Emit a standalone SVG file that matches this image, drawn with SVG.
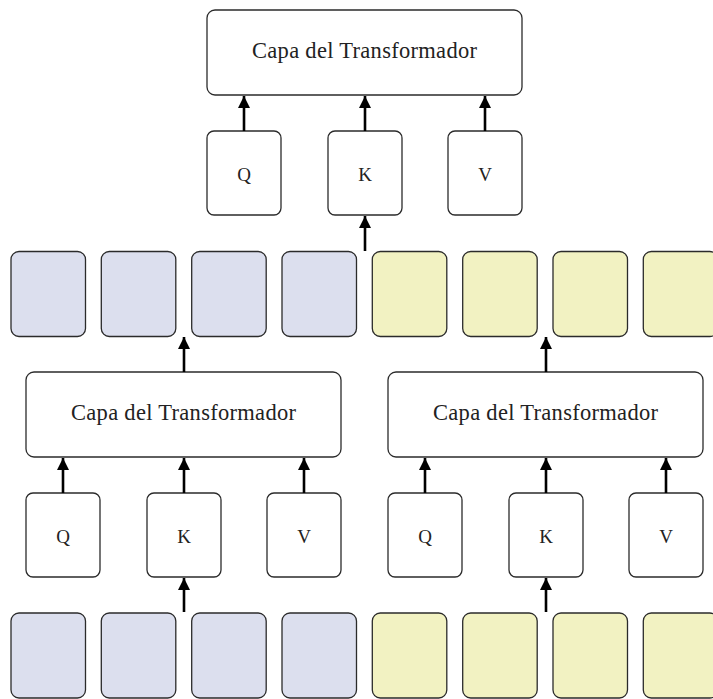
<svg xmlns="http://www.w3.org/2000/svg" width="713" height="699" viewBox="0 0 713 699">
<defs>
<style>
.box{fill:#ffffff;stroke:#2b2b2b;stroke-width:1.3}
.blue{fill:#dcdfee;stroke:#2b2b2b;stroke-width:1.3}
.yel{fill:#f2f2c2;stroke:#2b2b2b;stroke-width:1.3}
.title{font-family:"Liberation Serif","DejaVu Serif",serif;font-size:22.5px;fill:#222;text-anchor:middle}
.lbl{font-family:"Liberation Serif","DejaVu Serif",serif;font-size:19px;fill:#222;text-anchor:middle}
.arr{stroke:#000;stroke-width:2.6;fill:none;marker-end:url(#ah)}
</style>
<marker id="ah" markerUnits="userSpaceOnUse" markerWidth="12" markerHeight="14" viewBox="0 0 12 14" refX="12" refY="6" orient="auto">
<path d="M0,0 L12,6 L0,12 Z" fill="#000"/>
</marker>
</defs>

<g id="tiles-top">
<rect class="blue" x="11" y="251.5" width="74.5" height="85" rx="8"/>
<rect class="blue" x="101.3" y="251.5" width="74.5" height="85" rx="8"/>
<rect class="blue" x="191.7" y="251.5" width="74.5" height="85" rx="8"/>
<rect class="blue" x="282" y="251.5" width="74.5" height="85" rx="8"/>
<rect class="yel" x="372.3" y="251.5" width="74.5" height="85" rx="8"/>
<rect class="yel" x="462.7" y="251.5" width="74.5" height="85" rx="8"/>
<rect class="yel" x="553" y="251.5" width="74.5" height="85" rx="8"/>
<rect class="yel" x="643.3" y="251.5" width="74.5" height="85" rx="8"/>
</g>
<g id="tiles-bottom">
<rect class="blue" x="11" y="613" width="74.5" height="85" rx="8"/>
<rect class="blue" x="101.3" y="613" width="74.5" height="85" rx="8"/>
<rect class="blue" x="191.7" y="613" width="74.5" height="85" rx="8"/>
<rect class="blue" x="282" y="613" width="74.5" height="85" rx="8"/>
<rect class="yel" x="372.3" y="613" width="74.5" height="85" rx="8"/>
<rect class="yel" x="462.7" y="613" width="74.5" height="85" rx="8"/>
<rect class="yel" x="553" y="613" width="74.5" height="85" rx="8"/>
<rect class="yel" x="643.3" y="613" width="74.5" height="85" rx="8"/>
</g>

<g id="transformer-top">
<rect class="box" x="207" y="10" width="315" height="85" rx="8"/>
<text class="title" x="364.5" y="58" textLength="225">Capa del Transformador</text>
</g>
<g id="q-top"><rect class="box" x="207" y="131" width="74" height="84" rx="7"/><text class="lbl" x="244" y="181">Q</text></g>
<g id="k-top"><rect class="box" x="328" y="131" width="74" height="84" rx="7"/><text class="lbl" x="365" y="181">K</text></g>
<g id="v-top"><rect class="box" x="448" y="131" width="74" height="84" rx="7"/><text class="lbl" x="485" y="181">V</text></g>

<g id="transformer-left">
<rect class="box" x="26" y="372" width="315" height="85" rx="8"/>
<text class="title" x="183.5" y="420" textLength="225">Capa del Transformador</text>
</g>
<g id="q-left"><rect class="box" x="26" y="493" width="74" height="84" rx="7"/><text class="lbl" x="63" y="543">Q</text></g>
<g id="k-left"><rect class="box" x="147" y="493" width="74" height="84" rx="7"/><text class="lbl" x="184" y="543">K</text></g>
<g id="v-left"><rect class="box" x="267" y="493" width="74" height="84" rx="7"/><text class="lbl" x="304" y="543">V</text></g>

<g id="transformer-right">
<rect class="box" x="388" y="372" width="315" height="85" rx="8"/>
<text class="title" x="545.5" y="420" textLength="225">Capa del Transformador</text>
</g>
<g id="q-right"><rect class="box" x="388" y="493" width="74" height="84" rx="7"/><text class="lbl" x="425" y="543">Q</text></g>
<g id="k-right"><rect class="box" x="509" y="493" width="74" height="84" rx="7"/><text class="lbl" x="546" y="543">K</text></g>
<g id="v-right"><rect class="box" x="629" y="493" width="74" height="84" rx="7"/><text class="lbl" x="666" y="543">V</text></g>

<g id="connectors">
<line class="arr" x1="244" y1="131" x2="244" y2="96"/>
<line class="arr" x1="365" y1="131" x2="365" y2="96"/>
<line class="arr" x1="485" y1="131" x2="485" y2="96"/>
<line class="arr" x1="365" y1="251" x2="365" y2="216"/>
<line class="arr" x1="184" y1="372" x2="184" y2="337"/>
<line class="arr" x1="546" y1="372" x2="546" y2="337"/>
<line class="arr" x1="63" y1="493" x2="63" y2="458"/>
<line class="arr" x1="184" y1="493" x2="184" y2="458"/>
<line class="arr" x1="304" y1="493" x2="304" y2="458"/>
<line class="arr" x1="425" y1="493" x2="425" y2="458"/>
<line class="arr" x1="546" y1="493" x2="546" y2="458"/>
<line class="arr" x1="666" y1="493" x2="666" y2="458"/>
<line class="arr" x1="184" y1="612" x2="184" y2="578"/>
<line class="arr" x1="546" y1="612" x2="546" y2="578"/>
</g>
</svg>
